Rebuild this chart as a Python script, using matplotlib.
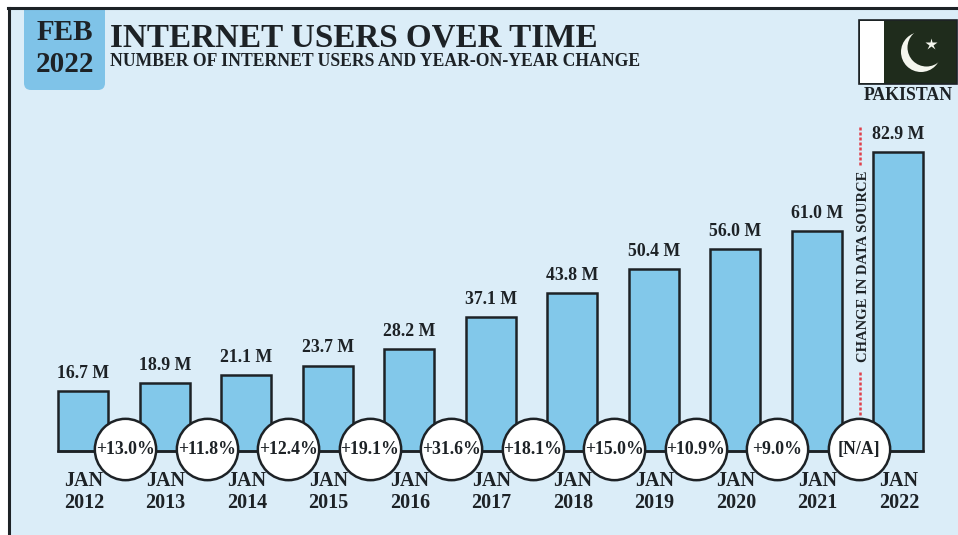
import matplotlib
matplotlib.use("Agg")
import matplotlib.pyplot as plt
from matplotlib.patches import Rectangle, FancyBboxPatch, Circle

plt.rcParams['font.family'] = ['Liberation Serif', 'DejaVu Serif']
plt.rcParams['font.weight'] = 'bold'

years = ['2012', '2013', '2014', '2015', '2016', '2017', '2018', '2019', '2020', '2021', '2022']
users = [16.7, 18.9, 21.1, 23.7, 28.2, 37.1, 43.8, 50.4, 56.0, 61.0, 82.9]
changes = ['+13.0%', '+11.8%', '+12.4%', '+19.1%', '+31.6%', '+18.1%', '+15.0%',
           '+10.9%', '+9.0%', '[N/A]']

W, H = 958, 535
INK = '#1d2226'
PANEL = '#dbedf8'
BAR = '#82c8ea'
TAB = '#7fc3e8'
FLAG = '#1f2c1c'
MOON = '#f4f6ee'
RED = '#e0414c'

fig = plt.figure(figsize=(W / 100, H / 100), dpi=100, facecolor='white')

# Decoration layer, measured in pixels from the top-left corner
deco = fig.add_axes([0, 0, 1, 1], zorder=0)
deco.set_xlim(0, W)
deco.set_ylim(H, 0)
deco.axis('off')
deco.add_patch(Rectangle((9, 8), W - 9, H - 8, fc=PANEL, ec='none'))
deco.plot([9, 9], [H, 8], color=INK, lw=2.2)
deco.add_patch(FancyBboxPatch((24, 0), 81, 90, boxstyle='round,pad=0,rounding_size=7',
                              fc=TAB, ec='none', zorder=1))
deco.add_patch(Rectangle((9, 0), W, 7, fc='white', ec='none', zorder=1.5))
deco.plot([8, W], [8, 8], color=INK, lw=2.2, zorder=1.6)
deco.text(65, 32, 'FEB', ha='center', va='center', fontsize=21, color=INK, zorder=2)
deco.text(65, 64, '2022', ha='center', va='center', fontsize=21, color=INK, zorder=2)
deco.text(110, 38, 'INTERNET USERS OVER TIME', ha='left', va='center', fontsize=23.9, color=INK)
deco.text(110, 61, 'NUMBER OF INTERNET USERS AND YEAR-ON-YEAR CHANGE', ha='left', va='center',
          fontsize=12.7, color=INK)

# Flag
deco.add_patch(Rectangle((859, 20), 98, 64, fc=FLAG, ec=INK, lw=1.2, zorder=2))
deco.add_patch(Rectangle((860, 21), 24.5, 62, fc='white', ec='none', zorder=2.1))
deco.add_patch(Circle((921, 52), 20, fc=MOON, ec='none', zorder=2.2))
deco.add_patch(Circle((926.5, 47.5), 19, fc=FLAG, ec='none', zorder=2.3))
deco.plot([931], [43.5], marker='*', ms=9, color=MOON, mec='none', zorder=2.4)
deco.text(908, 96, 'PAKISTAN', ha='center', va='center', fontsize=12.8, color=INK)

# Marker for the break in the source data
deco.plot([860.5, 860.5], [127, 167], color=RED, lw=1.8, ls=(0, (1.2, 0.8)))
deco.plot([860.5, 860.5], [372, 415], color=RED, lw=1.8, ls=(0, (1.2, 0.8)))
deco.text(864, 266, 'CHANGE IN DATA SOURCE', rotation=90, ha='center', va='center',
          fontsize=10.5, color=INK)

# Bar layer: one x unit per year, y in millions of users
ax = fig.add_axes([0, 0, 1, 1], zorder=1)
ax.patch.set_alpha(0)
x0, dx, y0, dy = 83.3, 81.5, 451, 3.607
ax.set_xlim(-x0 / dx, (W - x0) / dx)
ax.set_ylim(-(H - y0) / dy, y0 / dy)
ax.axis('off')

xs = list(range(len(users)))
ax.bar(xs, users, width=50 / dx, color=BAR, edgecolor=INK, linewidth=1.8, zorder=2)
ax.plot([xs[0] - 25 / dx, xs[-1] + 25 / dx], [0, 0], color=INK, lw=1.8, zorder=2)

for x, v, yr in zip(xs, users, years):
    ax.annotate(f'{v:.1f} M', (x, v), xytext=(0, 6.5), textcoords='offset points',
                ha='center', va='bottom', fontsize=12.8, color=INK, zorder=4)
    ax.annotate(f'JAN\n{yr}', (x, 0), xytext=(0.5, -14.5),
                textcoords='offset points', ha='center', va='top', fontsize=14.5,
                linespacing=1.1, color=INK, zorder=4)

mids = [x + 0.515 for x in xs[:-1]]
ax.scatter(mids, [0.5] * len(mids), s=1950, fc='white', ec=INK, lw=1.8, zorder=3)
for m, label in zip(mids, changes):
    ax.text(m, 0.3, label, ha='center', va='center', fontsize=12.8, color=INK, zorder=4)

fig.savefig('out.png', dpi=100, facecolor='white')
